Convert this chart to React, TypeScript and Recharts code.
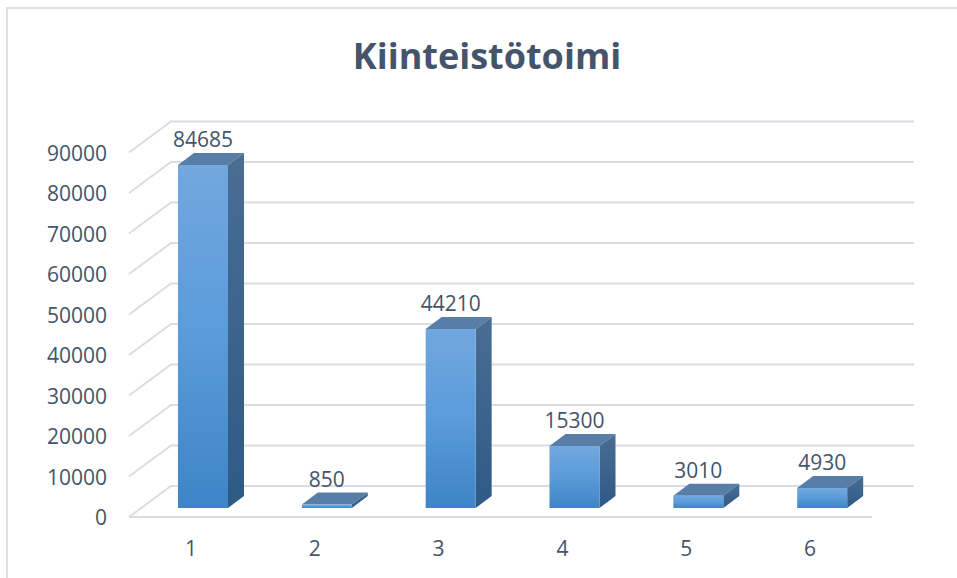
import React from 'react';
import { BarChart, Bar, XAxis, YAxis, CartesianGrid, LabelList } from 'recharts';

const categories = ['1', '2', '3', '4', '5', '6'];
const values = [84685, 850, 44210, 15300, 3010, 4930];
const yTicks = [0, 10000, 20000, 30000, 40000, 50000, 60000, 70000, 80000, 90000];
const chartTitle = 'Kiinteistötoimi';

const data = categories.map((c, i) => ({ name: c, value: values[i] }));

const W = 957;
const H = 578;
const PLOT_LEFT = 141;
const PLOT_RIGHT = 884;
const PLOT_TOP = 143.5;
const PLOT_BOTTOM = 508;
const YAXIS_W = 100;
const XAXIS_H = 30;
const FRONT_DX = -12;
const FRONT_DY = 9;
const BACK_DX = 30;
const BACK_DY = -22;
const DEPTH_DX = 16;
const DEPTH_DY = 12;
const FONT = "'Open Sans', 'Noto Sans', sans-serif";
const TEXT_COLOR = '#44546A';
const GRID = '#D9DCE3';

const GridLine = (p: any) => {
  const { x1, x2, y1 } = p;
  const fx = x1 + FRONT_DX;
  const fy = y1 + FRONT_DY;
  const bx = x1 + BACK_DX;
  const by = y1 + BACK_DY;
  const isFloor = Math.abs(y1 - PLOT_BOTTOM) < 1;
  return (
    <g>
      <path d={`M${fx},${fy}L${bx},${by}L${x2 + BACK_DX},${by}`} stroke={GRID} strokeWidth={2} fill="none" />
      {isFloor && (
        <path d={`M${fx},${fy}L${x2 + FRONT_DX},${fy}`} stroke={GRID} strokeWidth={2} fill="none" />
      )}
    </g>
  );
};

const Bar3D = (props: any) => {
  const { x, y, width, height } = props;
  if (x == null || y == null || !width) return null;
  const h = Math.max(height, 0);
  const id = `g${Math.round(x)}`;
  const dx = DEPTH_DX;
  const dy = DEPTH_DY;
  return (
    <g>
      <defs>
        <linearGradient id={`${id}f`} x1="0" y1="0" x2="0" y2="1">
          <stop offset="0%" stopColor="#72A7DF" />
          <stop offset="50%" stopColor="#5A9BDA" />
          <stop offset="100%" stopColor="#3E84C6" />
        </linearGradient>
        <linearGradient id={`${id}s`} x1="0" y1="0" x2="0" y2="1">
          <stop offset="0%" stopColor="#4A6D93" />
          <stop offset="100%" stopColor="#2D5A86" />
        </linearGradient>
      </defs>
      <polygon
        points={`${x},${y} ${x + dx},${y - dy} ${x + width + dx},${y - dy} ${x + width},${y}`}
        fill="#587DA6"
      />
      <polygon
        points={`${x + width},${y} ${x + width + dx},${y - dy} ${x + width + dx},${y + h - dy} ${x + width},${y + h}`}
        fill={`url(#${id}s)`}
      />
      <rect x={x} y={y} width={width} height={Math.max(h, 1)} fill={`url(#${id}f)`} />
    </g>
  );
};

const YTick = (props: any) => {
  const { y, payload } = props;
  return (
    <text
      x={PLOT_LEFT + FRONT_DX - 22}
      y={y + FRONT_DY}
      textAnchor="end"
      dominantBaseline="central"
      fontFamily={FONT}
      fontSize={21}
      fill={TEXT_COLOR}
    >
      {payload.value}
    </text>
  );
};

const XTick = (props: any) => {
  const { x, payload } = props;
  return (
    <text
      x={x + FRONT_DX}
      y={PLOT_BOTTOM + 40}
      textAnchor="middle"
      dominantBaseline="central"
      fontFamily={FONT}
      fontSize={21}
      fill={TEXT_COLOR}
    >
      {payload.value}
    </text>
  );
};

const ValueLabel = (props: any) => {
  const { x, y, width, value } = props;
  return (
    <text
      x={x + width / 2}
      y={y - 26}
      textAnchor="middle"
      dominantBaseline="central"
      fontFamily={FONT}
      fontSize={21}
      fill={TEXT_COLOR}
    >
      {value}
    </text>
  );
};

export default function App() {
  return (
    <div style={{ position: 'absolute', left: 0, top: 0, width: W, height: H, overflow: 'hidden', background: '#fff' }}>
      <BarChart
        width={W}
        height={H}
        data={data}
        margin={{
          top: PLOT_TOP,
          right: W - PLOT_RIGHT,
          bottom: H - PLOT_BOTTOM - XAXIS_H,
          left: PLOT_LEFT - YAXIS_W,
        }}
      >
        <CartesianGrid vertical={false} horizontal={GridLine as any} />
        <XAxis dataKey="name" axisLine={false} tickLine={false} height={XAXIS_H} tick={<XTick />} interval={0} />
        <YAxis
          type="number"
          domain={[0, 90000]}
          ticks={yTicks}
          axisLine={false}
          tickLine={false}
          width={YAXIS_W}
          tick={<YTick />}
          interval={0}
        />
        <Bar dataKey="value" barSize={50} isAnimationActive={false} shape={(p: any) => <Bar3D {...p} />}>
          <LabelList dataKey="value" content={(p: any) => <ValueLabel {...p} />} />
        </Bar>
      </BarChart>
      <svg
        width={W}
        height={H}
        style={{ position: 'absolute', left: 0, top: 0, pointerEvents: 'none' }}
      >
        <rect x={7} y={8} width={W + 20} height={H + 20} fill="none" stroke="#DCE0E6" strokeWidth={2} />
        <text
          x={487}
          y={69}
          textAnchor="middle"
          fontFamily={FONT}
          fontWeight="bold"
          fontSize={36}
          fill={TEXT_COLOR}
        >
          {chartTitle}
        </text>
      </svg>
    </div>
  );
}
